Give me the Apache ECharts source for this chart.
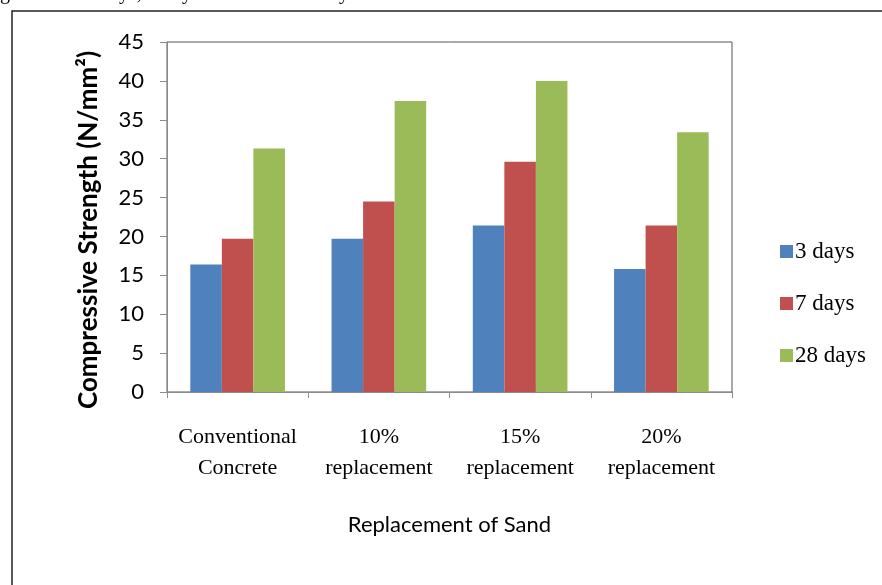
<!DOCTYPE html>
<html>
<head>
<meta charset="utf-8">
<script src="https://cdn.jsdelivr.net/npm/echarts@6/dist/echarts.min.js"></script>
<style>
html,body{margin:0;padding:0;background:#fff;}
#chart{width:882px;height:585px;}
</style>
</head>
<body>
<div id="chart"></div>
<script>
const categories = ['Conventional\nConcrete', '10%\nreplacement', '15%\nreplacement', '20%\nreplacement'];
const seriesNames = ['3 days', '7 days', '28 days'];
const days3 = [16.4, 19.7, 21.4, 15.8];
const days7 = [19.7, 24.5, 29.6, 21.4];
const days28 = [31.3, 37.4, 40.0, 33.4];
const yTicks = { min: 0, max: 45, interval: 5 };
const colors = ['#4F81BD', '#C0504D', '#9BBB59'];

const chart = echarts.init(document.getElementById('chart'));
const values = [days3, days7, days28];
const topFont = '20px "Liberation Serif"';

chart.setOption({
  animation: false,
  backgroundColor: '#ffffff',
  grid: { left: 167, top: 42, right: 150, bottom: 193, show: true, borderColor: '#555', borderWidth: 1, backgroundColor: 'transparent' },
  legend: {
    orient: 'vertical',
    left: 775,
    top: 235,
    itemWidth: 13,
    itemHeight: 13,
    itemGap: 29,
    icon: 'rect',
    textStyle: { fontFamily: 'Liberation Serif', fontSize: 23, color: '#000', padding: [0, 0, 0, -3] },
    data: seriesNames
  },
  xAxis: {
    type: 'category',
    data: categories,
    axisLine: { show: true, lineStyle: { color: '#8c8c8c', width: 1 } },
    axisTick: { show: true, length: 6, lineStyle: { color: '#8c8c8c' } },
    axisLabel: { interval: 0, fontFamily: 'Liberation Serif', fontSize: 22, color: '#000', lineHeight: 31, margin: 30 },
    name: 'Replacement of Sand',
    nameLocation: 'middle',
    nameGap: 122,
    nameTextStyle: { fontFamily: 'Lato', fontSize: 22, color: '#000' }
  },
  yAxis: {
    type: 'value',
    min: yTicks.min,
    max: yTicks.max,
    interval: yTicks.interval,
    axisLine: { show: true, lineStyle: { color: '#8c8c8c', width: 1 } },
    axisTick: { show: true, length: 7, lineStyle: { color: '#8c8c8c' } },
    splitLine: { show: false },
    axisLabel: { fontFamily: 'Lato', fontSize: 22, color: '#000', margin: 23 },
    name: 'Compressive Strength (N/mm\u00B2)',
    nameLocation: 'middle',
    nameGap: 65,
    nameRotate: 90,
    nameTextStyle: { fontFamily: 'Lato', fontWeight: 'bold', fontSize: 26, color: '#000', padding: [0, 26, 0, 0] }
  },
  graphic: [
    { type: 'rect', shape: { x: 12, y: 11, width: 900, height: 600 }, style: { fill: 'none', stroke: '#222', lineWidth: 1.5 }, z: 100 },
    { type: 'text', x: 0, y: 4, style: { text: 'g', font: topFont, fill: '#000', verticalAlign: 'bottom' } },
    { type: 'text', x: 100, y: 4, style: { text: 'days,', font: topFont, fill: '#000', verticalAlign: 'bottom' } },
    { type: 'text', x: 163, y: 4, style: { text: 'days', font: topFont, fill: '#000', verticalAlign: 'bottom' } },
    { type: 'text', x: 320, y: 4, style: { text: 'days', font: topFont, fill: '#000', verticalAlign: 'bottom' } }
  ],
  series: values.map((v, i) => ({
    name: seriesNames[i],
    type: 'bar',
    data: v,
    barGap: '0%',
    barCategoryGap: '33%',
    itemStyle: { color: colors[i] }
  }))
});
</script>
</body>
</html>
